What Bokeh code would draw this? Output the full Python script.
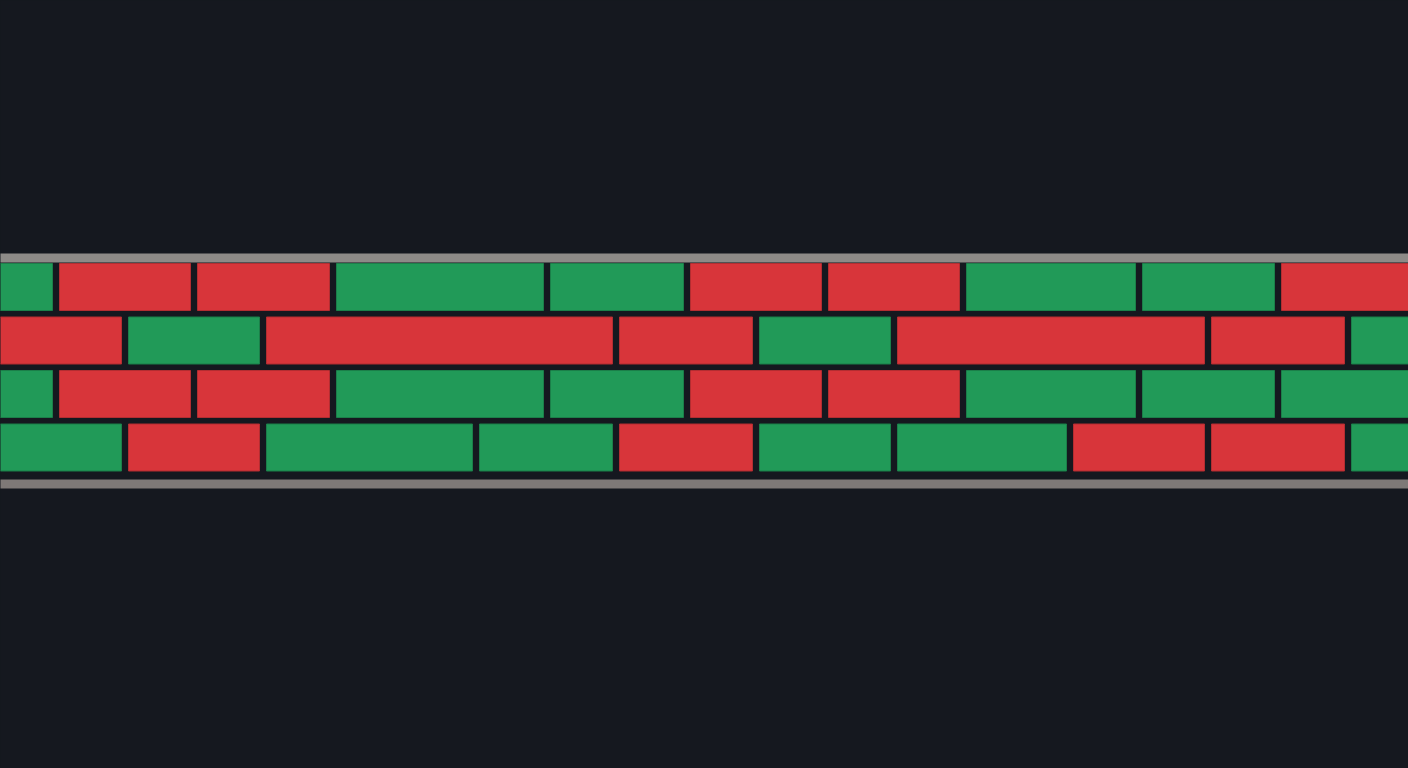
from bokeh.plotting import figure
from bokeh.models import Range1d, ColumnDataSource
from bokeh.embed import file_html
from bokeh.resources import INLINE

# Brick rows (0 = top). Each brick: left, right edge and state (up / down)
row1_left  = [-10, 59, 197, 336, 550, 690, 828, 966, 1142, 1281]
row1_right = [52, 190, 329, 543, 683, 821, 959, 1135, 1274, 1420]
row1_state = ["up", "down", "down", "up", "up", "down", "down", "up", "up", "down"]

row2_left  = [-10, 128, 266, 619, 759, 897, 1211, 1351]
row2_right = [121, 259, 612, 752, 890, 1204, 1344, 1420]
row2_state = ["down", "up", "down", "down", "up", "down", "down", "up"]

row3_left  = [-10, 59, 197, 336, 550, 690, 828, 966, 1142, 1281]
row3_right = [52, 190, 329, 543, 683, 821, 959, 1135, 1274, 1420]
row3_state = ["up", "down", "down", "up", "up", "down", "down", "up", "up", "up"]

row4_left  = [-10, 128, 266, 479, 619, 759, 897, 1073, 1211, 1351]
row4_right = [121, 259, 472, 612, 752, 890, 1066, 1204, 1344, 1420]
row4_state = ["up", "down", "up", "up", "down", "up", "up", "down", "down", "up"]

rows = [(row1_left, row1_right, row1_state),
        (row2_left, row2_right, row2_state),
        (row3_left, row3_right, row3_state),
        (row4_left, row4_right, row4_state)]

BG = "#15181f"
COLORS = {"up": "#219a58", "down": "#d8353a"}
EDGE = {"up": "#1b7f49", "down": "#b32d31"}

PITCH = 53.5
TOP_CENTER = 286.5  # page-pixel centre of first row

# y in row units (0 = top row)
y_top = (0 - TOP_CENTER) / PITCH
y_bot = (768 - TOP_CENTER) / PITCH

p = figure(width=1408, height=768, output_backend="svg", toolbar_location=None,
           x_range=Range1d(0, 1408), y_range=Range1d(y_bot, y_top),
           min_border=0, min_border_left=0, min_border_right=0,
           min_border_top=0, min_border_bottom=0)
p.background_fill_color = BG
p.border_fill_color = BG
p.outline_line_color = None
p.axis.visible = False
p.grid.visible = False

# rails
rail_h = 9 / PITCH
p.quad(left=[-20, -20], right=[1430, 1430],
       bottom=[(257.5 - TOP_CENTER) / PITCH - rail_h / 2, (483.5 - TOP_CENTER) / PITCH - rail_h / 2],
       top=[(257.5 - TOP_CENTER) / PITCH + rail_h / 2, (483.5 - TOP_CENTER) / PITCH + rail_h / 2],
       fill_color=["#8d8a87", "#7e7977"], line_color=None)

brick_h = 47 / PITCH
L, R, B, T, C, E = [], [], [], [], [], []
for i, (ls, rs, ss) in enumerate(rows):
    for l, r, s in zip(ls, rs, ss):
        L.append(l); R.append(r)
        B.append(i - brick_h / 2); T.append(i + brick_h / 2)
        C.append(COLORS[s]); E.append(EDGE[s])

src = ColumnDataSource(dict(left=L, right=R, bottom=B, top=T, fill=C, edge=E))
p.quad(left="left", right="right", bottom="bottom", top="top", source=src,
       fill_color="fill", line_color="edge", line_width=1)

html = file_html(p, INLINE)
html = html.replace("<head>", "<head><style>html,body{background:%s;overflow:hidden;margin:0;}</style>" % BG, 1)
open("out.html", "w").write(html)
